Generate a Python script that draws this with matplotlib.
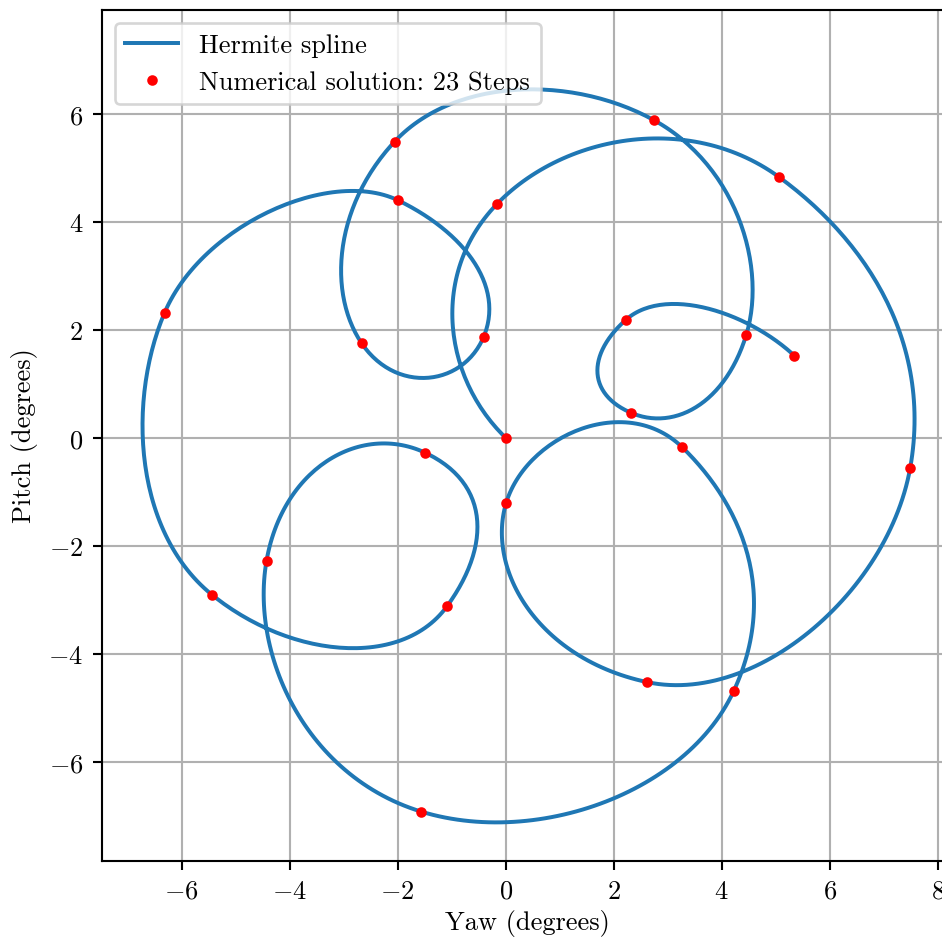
import numpy as np
import matplotlib
matplotlib.use("Agg")
import matplotlib.pyplot as plt

plt.rcParams["font.family"] = "serif"
plt.rcParams["font.serif"] = ["cmr10"]
plt.rcParams["mathtext.fontset"] = "cm"
plt.rcParams["axes.formatter.use_mathtext"] = True
plt.rcParams["font.size"] = 10

# solver output: yaw / pitch at each step (degrees)
yaw = [0.0, -0.161, 5.061, 7.493, 2.622, 0.011, 3.270, 4.220, -1.563, -4.428,
       -1.494, -1.087, -5.439, -6.317, -1.989, -0.409, -2.668, -2.057, 2.752,
       4.456, 2.326, 2.220, 5.344]
pitch = [0.0, 4.328, 4.829, -0.554, -4.526, -1.203, -0.176, -4.699, -6.924,
         -2.278, -0.276, -3.123, -2.908, 2.313, 4.395, 1.863, 1.751, 5.483,
         5.878, 1.905, 0.460, 2.178, 1.522]

# rates per step at each point (degrees / step)
yaw_rate = [-3.45, 3.75, 4.93, -1.22, -6.06, 1.14, 3.16, -2.62, -6.41, 0.92,
            3.53, -2.53, -4.35, 2.07, 3.78, -1.17, -1.90, 3.34, 4.55, -1.17,
            -2.39, 2.19, 2.56]
pitch_rate = [3.33, 3.88, -3.59, -6.89, 1.29, 3.73, -3.06, -5.62, 1.96, 5.22,
              -1.65, -3.48, 3.52, 4.88, -1.84, -2.76, 2.82, 3.58, -2.52, -3.82,
              1.02, 1.97, -2.39]


def hermite(p, m, n=60):
    p = np.asarray(p, float)
    m = np.asarray(m, float)
    s = np.linspace(0, 1, n)
    h00 = 2 * s**3 - 3 * s**2 + 1
    h10 = s**3 - 2 * s**2 + s
    h01 = -2 * s**3 + 3 * s**2
    h11 = s**3 - s**2
    out = []
    for i in range(len(p) - 1):
        seg = (h00 * p[i] + h10 * m[i] + h01 * p[i + 1] + h11 * m[i + 1])
        out.append(seg if i == 0 else seg[1:])
    return np.concatenate(out)


sx = hermite(yaw, yaw_rate)
sy = hermite(pitch, pitch_rate)

fig = plt.figure(figsize=(942 / 190, 939 / 190), dpi=190)
ax = fig.add_axes([0.1080, 0.0825, 0.9034, 0.9063])

ax.plot(sx, sy, color="#1f77b4", lw=1.5, label="Hermite spline")
ax.plot(yaw, pitch, "o", color="red", ms=3,
        label=f"Numerical solution: {len(yaw)} Steps")

ax.set_xlim(-7.48, 8.28)
ax.set_ylim(-7.83, 7.93)
ax.set_xticks(np.arange(-6, 9, 2))
ax.set_yticks(np.arange(-6, 7, 2))
ax.grid(True)
ax.set_xlabel("Yaw (degrees)", labelpad=2.5)
ax.set_ylabel("Pitch (degrees)")
ax.legend(loc="upper left")

fig.savefig("out.png", dpi=190)
